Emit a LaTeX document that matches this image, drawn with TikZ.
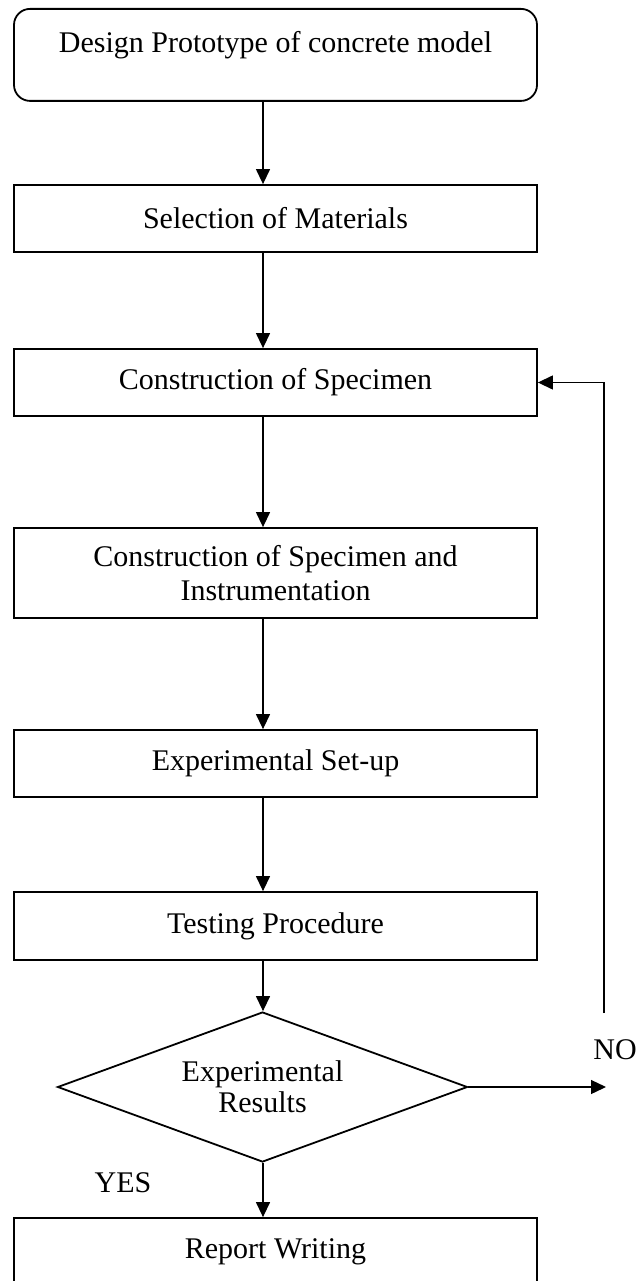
\documentclass[tikz,border=0pt]{standalone}
\usepackage{fontspec}
\setmainfont{Liberation Serif}
\usetikzlibrary{arrows.meta,shapes.geometric}
\begin{document}
\begin{tikzpicture}[x=1pt,y=-1pt,
  txt/.style={font=\fontsize{30}{31}\selectfont},
  box/.style={draw, line width=1.8pt, minimum width=523pt, inner sep=0pt, align=center, txt},
  dec/.style={draw, diamond, line width=1.8pt, minimum width=410pt, minimum height=150pt, shape aspect=2.73, inner sep=0pt, align=center, txt},
  arr/.style={line width=1.3pt, -{Triangle[length=15pt,width=14pt]}}]
\useasboundingbox (0,0) rectangle (641,1281);
\coordinate (ax) at (263,0);
\node[box, rounded corners=16pt, anchor=north, text height=44pt, text depth=48pt] (top) at (275.5,8) {Design Prototype of concrete model};
\node[box, minimum height=67pt] (sel) at (275.5,218.5) {Selection of Materials};
\node[box, minimum height=67pt] (cons) at (275.5,382.5) {Construction of Specimen};
\node[box, minimum height=90pt] (instr) at (275.5,573) {Construction of Specimen and\\[3pt]Instrumentation};
\node[box, minimum height=67pt] (exp) at (275.5,763.5) {Experimental Set-up};
\node[box, minimum height=68pt] (test) at (275.5,926) {Testing Procedure};
\node[dec] (res) at (262.5,1087) {Experimental\\Results};
\node[box, minimum height=67pt] (rep) at (275.5,1251.5) {Report Writing};
\node[txt] (no) at (615,1050) {NO};
\node[txt] (yes) at (123,1183) {YES};
\coordinate (noend) at (606,1087);
\coordinate (fb) at (604,1013);
\draw[arr] (top.south -| ax) -- (sel.north -| ax);
\draw[arr] (sel.south -| ax) -- (cons.north -| ax);
\draw[arr] (cons.south -| ax) -- (instr.north -| ax);
\draw[arr] (instr.south -| ax) -- (exp.north -| ax);
\draw[arr] (exp.south -| ax) -- (test.north -| ax);
\draw[arr] (test.south -| ax) -- (res.north -| ax);
\draw[arr] (res.south -| ax) -- (rep.north -| ax);
\draw[arr] (res.east) -- (noend);
\draw[arr] (fb) |- (cons.east);
\end{tikzpicture}
\end{document}
